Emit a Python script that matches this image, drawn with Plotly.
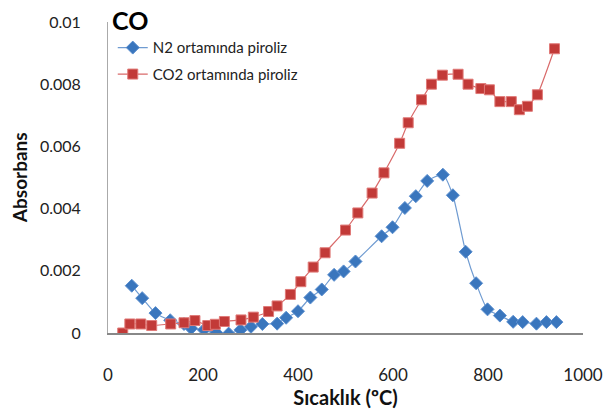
import plotly.graph_objects as go

n2_x = [50, 72, 100, 131, 160, 175, 202, 228, 254, 279, 301, 325, 356, 375, 400, 426, 450, 476, 496, 521,
        576, 599, 625, 648, 672, 705, 726, 753, 775, 799, 825, 853, 873, 902, 923, 944]
n2_y = [0.00152, 0.00112, 0.00064, 0.00041, 0.00029, 0.00015, 0.0001, 0.00001, -0.00002, 0.0001, 0.0002,
        0.00029, 0.0003, 0.00049, 0.0007, 0.00114, 0.0014, 0.00187, 0.00198, 0.0023,
        0.00311, 0.0034, 0.00402, 0.0044, 0.00489, 0.00509, 0.00443, 0.00261, 0.0016, 0.00076, 0.00056,
        0.00036, 0.00035, 0.0003, 0.00035, 0.00035]

co2_x = [31, 46, 69, 92, 132, 160, 183, 210, 226, 245, 280, 306, 338, 356, 384, 406, 432, 457, 500, 526,
         556, 581, 614, 632, 660, 681, 704, 737, 758, 785, 803, 825, 849, 866, 883, 904, 940]
co2_y = [0.0, 0.00029, 0.00029, 0.00024, 0.00029, 0.00033, 0.0004, 0.00024, 0.00028, 0.00037, 0.00042,
         0.00051, 0.00069, 0.00087, 0.00124, 0.00165, 0.00212, 0.00258, 0.00331, 0.00386,
         0.0045, 0.00515, 0.0061, 0.00676, 0.0075, 0.008, 0.00829, 0.00832, 0.008, 0.00786, 0.00782,
         0.00744, 0.00744, 0.00718, 0.00729, 0.00766, 0.00914]

x_ticks = [0, 200, 400, 600, 800, 1000]
y_ticks = [0, 0.002, 0.004, 0.006, 0.008, 0.01]
y_ticktext = ["0", "0.002", "0.004", "0.006", "0.008", "0.01"]

FONT = "Lato, 'Open Sans', sans-serif"

fig = go.Figure()
fig.add_trace(go.Scatter(
    x=n2_x, y=n2_y, name="N2 ortamında piroliz", mode="lines+markers", legendgroup="a",
    line=dict(color="#6f9bd1", width=1.2, shape="spline", smoothing=0.6),
    marker=dict(symbol="diamond", size=10, color="#3a76bd", line=dict(color="#5b8fcf", width=1)),
))
fig.add_trace(go.Scatter(
    x=co2_x, y=co2_y, name="CO2 ortamında piroliz", mode="lines+markers", legendgroup="b",
    line=dict(color="#d96a6a", width=1.2, shape="spline", smoothing=0.4),
    marker=dict(symbol="square", size=10, color="#c23a38", line=dict(color="#e07a78", width=1)),
))

fig.update_layout(
    width=615, height=416,
    margin=dict(l=108, r=30, t=18, b=83),
    paper_bgcolor="white", plot_bgcolor="white",
    font=dict(family=FONT, color="#222", size=16),
    showlegend=True,
    legend=dict(x=0.01, y=0.97, xanchor="left", yanchor="top",
                bgcolor="rgba(0,0,0,0)", font=dict(size=15, color="#222"),
                itemwidth=30, tracegroupgap=4),
    annotations=[
        dict(text="<b>CO</b>", xref="paper", yref="paper", x=0.005, y=1.06,
             xanchor="left", yanchor="top", showarrow=False,
             font=dict(size=25, color="black", family=FONT)),
        dict(text="<b>Absorbans</b>", xref="paper", yref="paper", x=-0.186, y=0.5,
             xanchor="center", yanchor="middle", textangle=-90, showarrow=False,
             font=dict(size=19, color="#111", family=FONT)),
    ],
)
fig.update_xaxes(
    range=[0, 1000], tickvals=x_ticks, showgrid=False, zeroline=False,
    showline=True, linecolor="#888", linewidth=1.5, ticks="",
    ticklabelstandoff=26, tickfont=dict(size=17, color="#222"),
    title=dict(text="<b>Sıcaklık (ºC)</b>", font=dict(size=20, color="#111"), standoff=4),
)
fig.update_yaxes(
    range=[0, 0.01], tickvals=y_ticks, ticktext=y_ticktext, showgrid=False, zeroline=False,
    showline=True, linecolor="#aaa", linewidth=1, ticks="",
    ticklabelstandoff=23, tickfont=dict(size=16, color="#222"),
)

fig.write_html("out.html")
